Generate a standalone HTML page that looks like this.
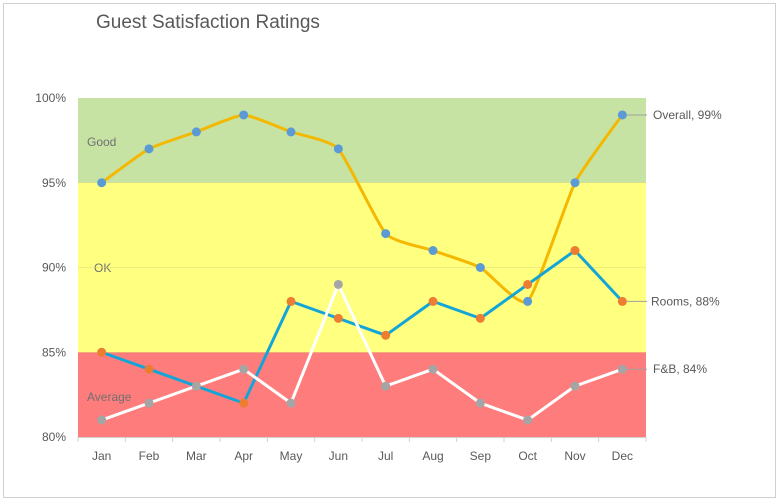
<!DOCTYPE html>
<html><head><meta charset="utf-8"><style>
body{margin:0;background:#fff;font-family:"Liberation Sans",sans-serif}
svg{display:block}
</style></head><body>
<svg id="c" width="780" height="502">
<rect x="3.5" y="3.5" width="772" height="494" fill="#fff" stroke="#d0d0d0"/>
<text x="96" y="28" font-size="19" fill="#595959">Guest Satisfaction Ratings</text>
</svg>
<script>
const months=["Jan","Feb","Mar","Apr","May","Jun","Jul","Aug","Sep","Oct","Nov","Dec"];
const overall=[95,97,98,99,98,97,92,91,90,88,95,99];
const rooms=[85,84,83,82,88,87,86,88,87,89,91,88];
const fnb=[81,82,83,84,82,89,83,84,82,81,83,84];
const yTicks=[80,85,90,95,100];
const bands=[{name:"Good",lo:95,hi:100,color:"#c6e3a4"},{name:"OK",lo:85,hi:95,color:"#ffff80"},{name:"Average",lo:80,hi:85,color:"#ff7c7c"}];
const NS="http://www.w3.org/2000/svg",svg=document.getElementById('c');
const L=78,R=646,T=98,B=437,yMin=80,yMax=100;
const bw=(R-L)/months.length;
const x=i=>L+bw*(i+0.5);
const y=v=>B-(v-yMin)/(yMax-yMin)*(B-T);
function el(t,a,p){const e=document.createElementNS(NS,t);for(const k in a)e.setAttribute(k,a[k]);(p||svg).appendChild(e);return e;}
bands.forEach(b=>{
 const r=el('rect',{x:L,y:y(b.hi),width:R-L,height:y(b.lo)-y(b.hi),fill:b.color});
 
 
});
const bandLabelY={Good:146,OK:272,Average:401};
bands.forEach(b=>{
 const t=el('text',{x:b.name==="OK"?94:87,y:bandLabelY[b.name],'font-size':12,fill:"#707070"});t.textContent=b.name;
 
 
});
yTicks.forEach(v=>{
 if(v>80&&v<100){const g=el('line',{x1:L,x2:R,y1:y(v),y2:y(v),stroke:"#e6d97a","stroke-width":0.6});
 
 }
 const t=el('text',{x:66,y:y(v)+4,'font-size':12,fill:"#595959",'text-anchor':'end'});t.textContent=v+"%";
 
 
});
const ax=el('line',{x1:L,x2:R,y1:B+0.5,y2:B+0.5,stroke:"#d0d0d0"});


for(let i=0;i<=months.length;i++){const tk=el('line',{x1:L+bw*i,x2:L+bw*i,y1:B,y2:B+5,stroke:"#d0d0d0"});
 
 }
months.forEach((m,i)=>{const t=el('text',{x:x(i),y:460,'font-size':12,fill:"#595959",'text-anchor':'middle'});t.textContent=m;
 
 });
function smooth(pts){const k=12;let d=`M${pts[0][0]},${pts[0][1]}`;
 for(let i=0;i<pts.length-1;i++){const p0=pts[i-1]||pts[i],p1=pts[i],p2=pts[i+1],p3=pts[i+2]||p2;
 const c1=[p1[0]+(p2[0]-p0[0])/k,p1[1]+(p2[1]-p0[1])/k],c2=[p2[0]-(p3[0]-p1[0])/k,p2[1]-(p3[1]-p1[1])/k];
 d+=` C${c1[0]},${c1[1]} ${c2[0]},${c2[1]} ${p2[0]},${p2[1]}`;}return d;}
const series=[
 {name:"Overall",data:overall,line:"#f5b800",mark:"#5b9bd5",smooth:true},
 {name:"Rooms",data:rooms,line:"#13a5d8",mark:"#ed7d31",smooth:false},
 {name:"F&B",data:fnb,line:"#ffffff",mark:"#a5a5a5",smooth:false}];
series.forEach(s=>{
 const pts=s.data.map((v,i)=>[x(i),y(v)]);
 const d=s.smooth?smooth(pts):"M"+pts.map(p=>p.join(",")).join(" L");
 const p=el('path',{d:d,fill:"none",stroke:s.line,"stroke-width":3,"stroke-linejoin":"round"});
 
 
});
series.forEach(s=>{
 s.data.forEach((v,i)=>{const c=el('circle',{cx:x(i),cy:y(v),r:4.5,fill:s.mark});
  
  });
 const last=s.data.length-1,ly=y(s.data[last]);
 const ln=el('line',{x1:x(last)+4,x2:647,y1:ly,y2:ly,stroke:"#a0a0a0"});
 
 
 const t=el('text',{x:s.name==="Rooms"?651:653,y:ly+4,'font-size':12,fill:"#595959"});t.textContent=s.name+", "+s.data[last]+"%";
 
 
});
</script>
</body></html>
